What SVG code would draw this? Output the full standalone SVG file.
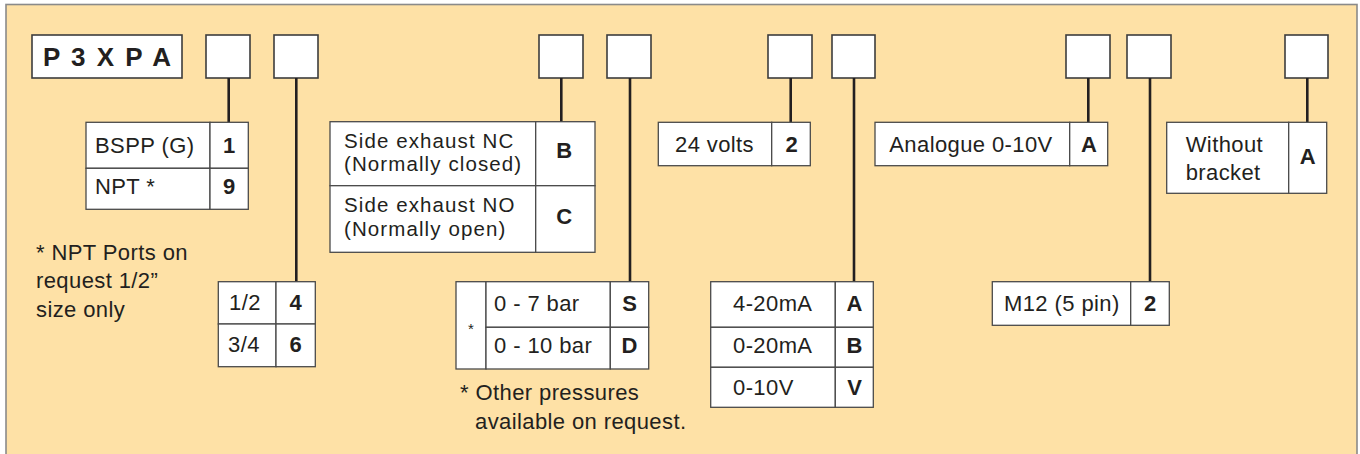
<svg xmlns="http://www.w3.org/2000/svg" width="1360" height="454" viewBox="0 0 1360 454">
<style>
.bg{fill:#fee1a6;stroke:#8a8a8a;stroke-width:1.6}
.box{fill:#fff;stroke:#3d3d3d;stroke-width:1.6}
.cell{fill:#fff;stroke:#4a4a4a;stroke-width:1.3}
.conn{stroke:#231f20;stroke-width:2.6;fill:none}
text{font-family:"Liberation Sans",Arial,sans-serif;font-size:22px;letter-spacing:0.4px;fill:#231f20}
.tight{font-size:20.5px;letter-spacing:1.1px}
.code{font-weight:bold;text-anchor:middle;letter-spacing:0}
.title{font-weight:bold;font-size:26px;letter-spacing:0}
</style>
<rect class="bg" x="6" y="4.5" width="1351" height="470"/>

<g id="code-boxes">
  <g id="box-p3xpa"><rect class="box" x="32" y="35" width="150" height="43"/><text class="title" x="43" y="66" textLength="128" lengthAdjust="spacing">P 3 X P A</text></g>
  <g id="box-1"><rect class="box" x="206" y="35" width="44" height="43"/></g>
  <g id="box-2"><rect class="box" x="274" y="35" width="44" height="43"/></g>
  <g id="box-3"><rect class="box" x="539" y="35" width="44" height="43"/></g>
  <g id="box-4"><rect class="box" x="607" y="35" width="44" height="43"/></g>
  <g id="box-5"><rect class="box" x="768" y="35" width="44" height="43"/></g>
  <g id="box-6"><rect class="box" x="832" y="35" width="43" height="43"/></g>
  <g id="box-7"><rect class="box" x="1066" y="35" width="44" height="43"/></g>
  <g id="box-8"><rect class="box" x="1127" y="35" width="44" height="43"/></g>
  <g id="box-9"><rect class="box" x="1285" y="35" width="43" height="43"/></g>
</g>

<g id="connectors">
  <line class="conn" x1="228.7" y1="78" x2="228.7" y2="122"/>
  <line class="conn" x1="296.3" y1="78" x2="296.3" y2="282"/>
  <line class="conn" x1="561.3" y1="78" x2="561.3" y2="122"/>
  <line class="conn" x1="630" y1="78" x2="630" y2="282"/>
  <line class="conn" x1="790.7" y1="78" x2="790.7" y2="122"/>
  <line class="conn" x1="854" y1="78" x2="854" y2="282"/>
  <line class="conn" x1="1088.3" y1="78" x2="1088.3" y2="122"/>
  <line class="conn" x1="1150" y1="78" x2="1150" y2="282"/>
  <line class="conn" x1="1307.3" y1="78" x2="1307.3" y2="122"/>
</g>

<g id="table-port">
  <rect class="cell" x="86" y="122.3" width="124" height="46"/>
  <rect class="cell" x="210" y="122.3" width="38.3" height="46"/>
  <rect class="cell" x="86" y="168.3" width="124" height="41"/>
  <rect class="cell" x="210" y="168.3" width="38.3" height="41"/>
  <text x="95" y="152.7">BSPP (G)</text><text class="code" x="229" y="152.7">1</text>
  <text x="95" y="194">NPT *</text><text class="code" x="229" y="194">9</text>
</g>

<g id="note-npt">
  <text x="36" y="260">* NPT Ports on<tspan x="36" dy="28.3">request 1/2”</tspan><tspan x="36" dy="28.4">size only</tspan></text>
</g>

<g id="table-size">
  <rect class="cell" x="218.3" y="281.7" width="57.7" height="42.3"/>
  <rect class="cell" x="276" y="281.7" width="39.3" height="42.3"/>
  <rect class="cell" x="218.3" y="324" width="57.7" height="42.7"/>
  <rect class="cell" x="276" y="324" width="39.3" height="42.7"/>
  <text x="229" y="310">1/2</text><text class="code" x="295.6" y="310">4</text>
  <text x="228" y="351.7">3/4</text><text class="code" x="295.6" y="351.7">6</text>
</g>

<g id="table-exhaust">
  <rect class="cell" x="330" y="121.7" width="205.7" height="64"/>
  <rect class="cell" x="535.7" y="121.7" width="59.3" height="64"/>
  <rect class="cell" x="330" y="185.7" width="205.7" height="66.6"/>
  <rect class="cell" x="535.7" y="185.7" width="59.3" height="66.6"/>
  <text class="tight" x="344" y="147.6">Side exhaust NC<tspan x="344" dy="23.2">(Normally closed)</tspan></text>
  <text class="code" x="564.3" y="158.3">B</text>
  <text class="tight" x="344" y="212.3">Side exhaust NO<tspan x="344" dy="23.2">(Normally open)</tspan></text>
  <text class="code" x="564.3" y="224">C</text>
</g>

<g id="table-pressure">
  <rect class="cell" x="456" y="281.7" width="30" height="87.3"/>
  <rect class="cell" x="486" y="281.7" width="124.3" height="45.6"/>
  <rect class="cell" x="610.3" y="281.7" width="38.4" height="45.6"/>
  <rect class="cell" x="486" y="327.3" width="124.3" height="41.7"/>
  <rect class="cell" x="610.3" y="327.3" width="38.4" height="41.7"/>
  <text x="471" y="334" style="font-size:15px;text-anchor:middle;letter-spacing:0">*</text>
  <text x="494" y="310.7">0 - 7 bar</text><text class="code" x="629.5" y="310.7">S</text>
  <text x="494" y="353.3">0 - 10 bar</text><text class="code" x="629.5" y="353.3">D</text>
</g>

<g id="note-pressure">
  <text x="460" y="400">* Other pressures<tspan x="475" dy="29">available on request.</tspan></text>
</g>

<g id="table-voltage">
  <rect class="cell" x="658.3" y="122.3" width="113.4" height="43.4"/>
  <rect class="cell" x="771.7" y="122.3" width="38.6" height="43.4"/>
  <text x="675" y="151.7">24 volts</text><text class="code" x="791.5" y="151.7">2</text>
</g>

<g id="table-output">
  <rect class="cell" x="710.7" y="281.7" width="124.6" height="45.6"/>
  <rect class="cell" x="835.3" y="281.7" width="38" height="45.6"/>
  <rect class="cell" x="710.7" y="327.3" width="124.6" height="40"/>
  <rect class="cell" x="835.3" y="327.3" width="38" height="40"/>
  <rect class="cell" x="710.7" y="367.3" width="124.6" height="40"/>
  <rect class="cell" x="835.3" y="367.3" width="38" height="40"/>
  <text x="733" y="310.7">4-20mA</text><text class="code" x="854.5" y="310.7">A</text>
  <text x="733" y="353.3">0-20mA</text><text class="code" x="854.5" y="353.3">B</text>
  <text x="733" y="395">0-10V</text><text class="code" x="854.5" y="395">V</text>
</g>

<g id="table-signal">
  <rect class="cell" x="875" y="122.3" width="194.7" height="43.4"/>
  <rect class="cell" x="1069.7" y="122.3" width="38" height="43.4"/>
  <text x="889.3" y="151.7">Analogue 0-10V</text><text class="code" x="1089" y="151.7">A</text>
</g>

<g id="table-connector">
  <rect class="cell" x="992.3" y="281.7" width="138.4" height="43.6"/>
  <rect class="cell" x="1130.7" y="281.7" width="38.6" height="43.6"/>
  <text x="1004" y="310.7">M12 (5 pin)</text><text class="code" x="1150" y="310.7">2</text>
</g>

<g id="table-bracket">
  <rect class="cell" x="1166.7" y="122.3" width="122" height="71"/>
  <rect class="cell" x="1288.7" y="122.3" width="38" height="71"/>
  <text x="1185.7" y="151.7">Without<tspan x="1185.7" dy="28.3">bracket</tspan></text>
  <text class="code" x="1307.7" y="164.3">A</text>
</g>
</svg>
